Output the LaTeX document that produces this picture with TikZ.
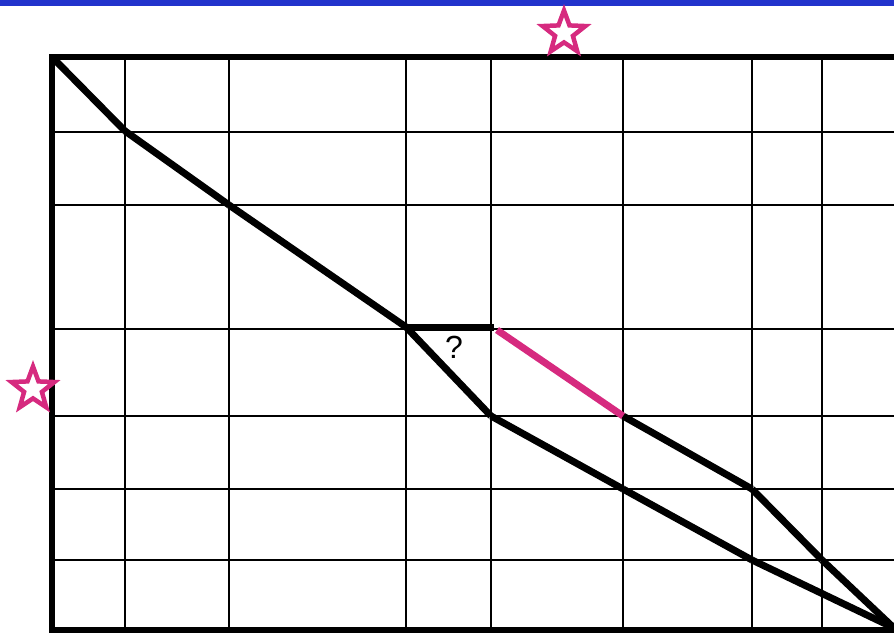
\documentclass[tikz,border=0pt]{standalone}
\usepackage{fontspec}
\setmainfont{Liberation Sans}
\usetikzlibrary{shapes.geometric}
\definecolor{barBlue}{HTML}{2233CC}
\definecolor{hotPink}{HTML}{D62A7F}

\begin{document}
\begin{tikzpicture}[x=1pt,y=-1pt]
        \useasboundingbox (0,0) rectangle (894,632);
        \fill[barBlue] (0,0) rectangle (894,6);
        % grid
        \foreach \x in {125,229,406,491,623,752,822} {
          \draw[line width=2.6pt] (\x,57) -- (\x,630);
        }
        \foreach \y in {132,205,329,416,489,560} {
          \draw[line width=2.6pt] (52,\y) -- (894,\y);
        }
        \draw[line width=5.5pt] (894,57) -- (52,57) -- (52,630) -- (894,630);
        % path points
        \foreach \n/\x/\y in {a0/52/57,a1/125/131,a2/229/205,a3/406/327,q/494/327,
                              b0/491/416,b1/623/489,b2/752/560,
                              m0/497/330,m1/623/416,t1/752/489,t2/822/560,e/894/628} {
          \coordinate (\n) at (\x,\y);
        }
        \foreach \s/\t in {a0/a1,a1/a2,a2/a3,a3/q,a3/b0,b0/b1,b1/b2,b2/e,m1/t1,t1/t2,t2/e} {
          \draw[line width=7pt] (\s) -- (\t);
        }
        \draw[hotPink,line width=7pt] (m0) -- (m1);
        \node[font=\fontsize{32}{38}\selectfont] (qm) at (454,347) {?};
        % stars
        \node[star,star points=5,star point ratio=2.4,minimum size=45pt,inner sep=0pt,
              draw=hotPink,fill=white,line width=4.5pt] (s1) at (564,33) {};
        \node[star,star points=5,star point ratio=2.4,minimum size=45pt,inner sep=0pt,
              draw=hotPink,fill=white,line width=4.5pt] (s2) at (33,389) {};
      \end{tikzpicture}
\end{document}
